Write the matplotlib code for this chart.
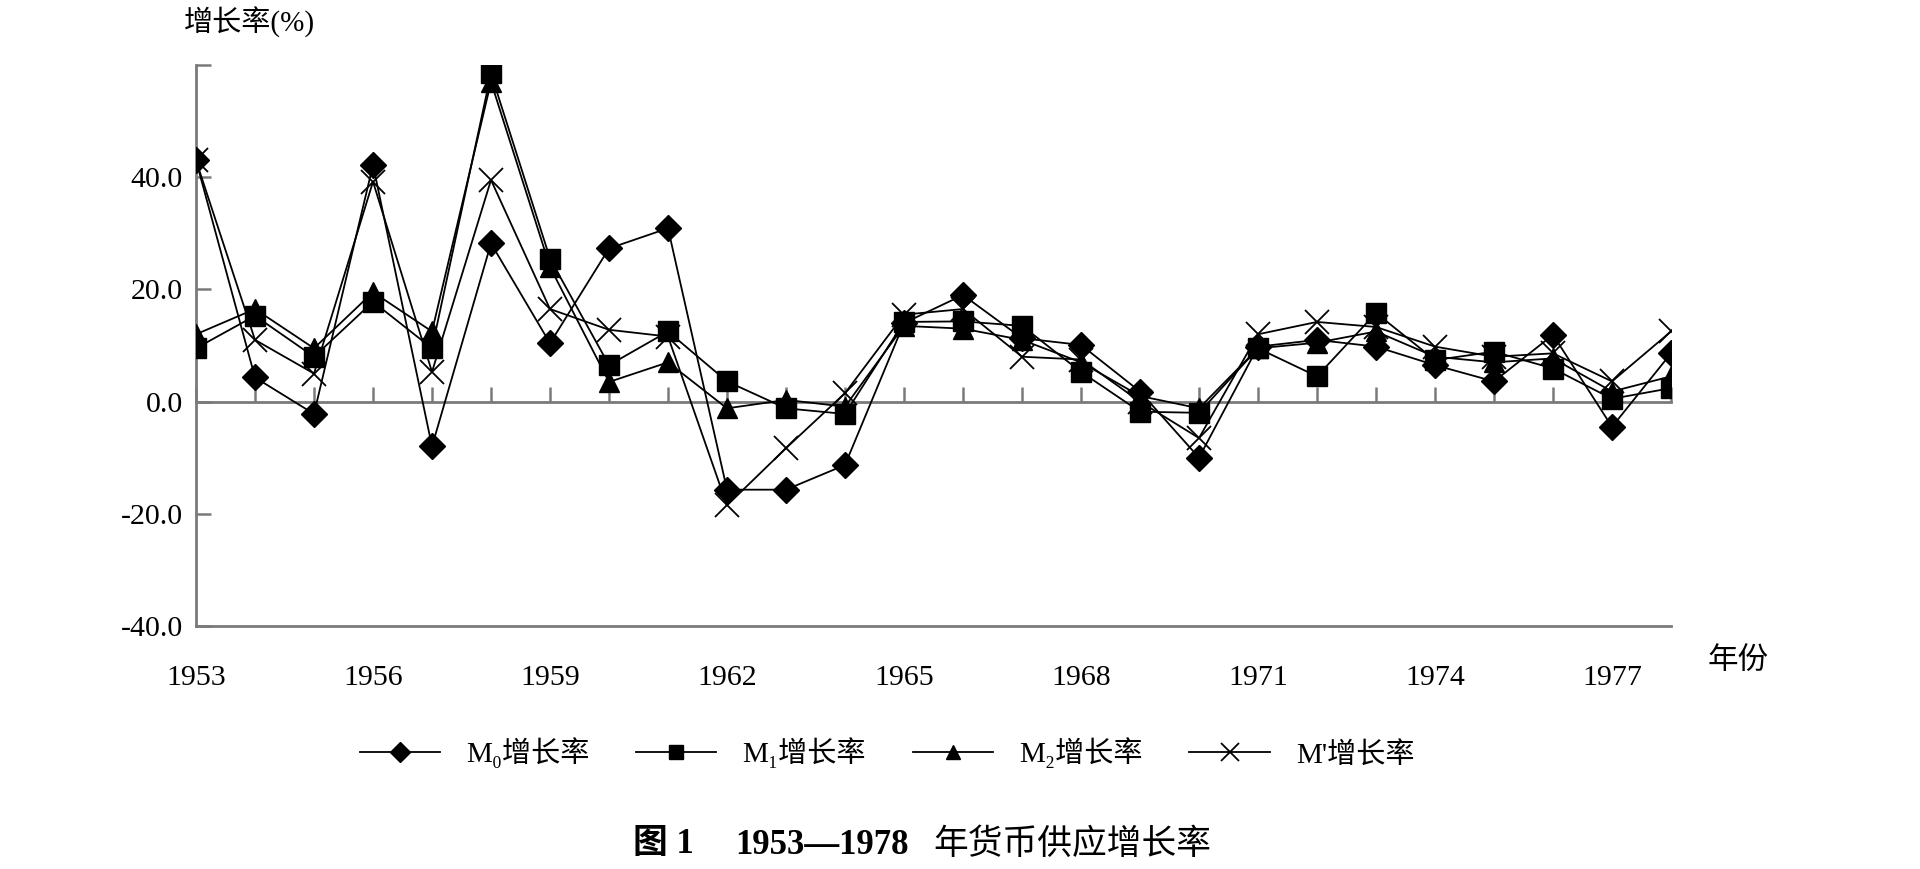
import matplotlib
matplotlib.use("Agg")
import matplotlib.pyplot as plt

plt.rcParams['font.family'] = ['Liberation Serif', 'Noto Sans CJK SC', 'DejaVu Sans']

years = list(range(1953, 1979))
m0 = [43.0, 4.3, -2.2, 42.2, -8.0, 28.2, 10.4, 27.3, 30.9, -15.7, -15.7, -11.3, 14.0,
      19.0, 11.3, 10.1, 1.8, -10.0, 9.8, 11.0, 9.8, 6.5, 3.6, 11.9, -4.5, 8.6]
m1 = [9.5, 15.3, 8.0, 17.8, 9.5, 58.5, 25.5, 6.5, 12.5, 3.6, -1.2, -2.2, 14.2,
      14.3, 13.5, 5.3, -1.8, -2.0, 9.5, 4.5, 15.8, 7.4, 8.9, 5.9, 0.5, 2.4]
m2 = [12.0, 16.5, 9.5, 19.5, 12.5, 57.0, 24.0, 3.5, 7.0, -1.2, 0.3, -0.9, 13.5,
      13.0, 11.0, 7.0, 1.0, -1.2, 9.5, 10.5, 12.5, 8.0, 7.0, 7.7, 1.8, 4.5]
mp = [43.0, 11.0, 5.0, 39.2, 5.3, 39.5, 16.5, 12.8, 11.6, -18.5, -8.3, 1.5, 15.5,
      16.5, 8.0, 7.5, 0.0, -6.5, 12.0, 14.2, 13.3, 9.8, 8.0, 8.6, 3.6, 12.5]

labels = ['M₀增长率', 'M₁增长率', 'M₂增长率', "M'增长率"]
yticks = [-40, -20, 0, 20, 40, 60]
ytick_labels = ['-40.0', '-20.0', '0.0', '20.0', '40.0', '']

fig = plt.figure(figsize=(19.2, 8.69), dpi=100)
ax = fig.add_axes([196 / 1920, 1 - 626 / 869, (1671 - 196) / 1920, (626 - 65) / 869])

axis_col = '#7a7a7a'
ax.plot(years, m0, color='black', lw=1.3, marker='D', ms=13, label=labels[0])
ax.plot(years, m1, color='black', lw=1.3, marker='s', ms=14, label=labels[1])
ax.plot(years, m2, color='black', lw=1.3, marker='^', ms=14, label=labels[2])
ax.plot(years, mp, color='black', lw=1.3, marker='x', ms=17, mew=1.3, label=labels[3])

ax.set_xlim(1953, 1978)
ax.set_ylim(-40, 60)
ax.set_yticks(yticks, ytick_labels)
ax.tick_params(axis='y', direction='in', length=11, width=1.8, color=axis_col,
               labelsize=21.5, pad=9.5)

# category axis crosses at zero, labels sit at the bottom
ax.spines['bottom'].set_position(('data', 0))
ax.set_xticks(years)
ax.tick_params(axis='x', direction='in', length=11, width=1.8, color=axis_col,
               labelbottom=False)
for s in ['top', 'right']:
    ax.spines[s].set_visible(False)
for s in ['left', 'bottom']:
    ax.spines[s].set_color(axis_col)
    ax.spines[s].set_linewidth(2)
    ax.spines[s].set_zorder(0)

sec = ax.secondary_xaxis(0.0)
sec.set_xticks(years[::3], [str(y) for y in years[::3]])
sec.tick_params(length=0, labelsize=21.5, pad=28)
sec.spines['bottom'].set_color(axis_col)
sec.spines['bottom'].set_linewidth(2)

fig.text(184 / 1920, 1 - 22 / 869, '增长率(%)', fontsize=21, ha='left', va='center')
fig.text(1708 / 1920, 1 - 661 / 869, '年份', fontsize=22, ha='left', va='center')

fig.legend(loc='center', bbox_to_anchor=(887 / 1920, 1 - 753 / 869), ncol=4,
           frameon=False, fontsize=21, handlelength=2.75, handletextpad=0.9,
           columnspacing=1.6, markerscale=0.75)

fig.text(633 / 1920, 1 - 845 / 869, '图 1', fontsize=25, weight='bold', ha='left', va='center')
fig.text(735 / 1920, 1 - 845 / 869, '1953—1978', fontsize=25, weight='bold', ha='left', va='center')
fig.text(933 / 1920, 1 - 845 / 869, '年货币供应增长率', fontsize=25, ha='left', va='center')

fig.savefig('out.png', dpi=100)
